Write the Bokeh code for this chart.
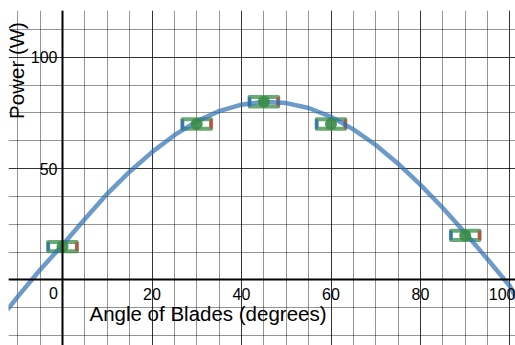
from bokeh.plotting import figure
from bokeh.models import FixedTicker, Label, ColumnDataSource, Range1d
from bokeh.core.properties import value
from bokeh.embed import file_html
from bokeh.resources import INLINE
import math

# ---- data ----
angle = [0, 30, 45, 60, 90]           # degrees
power = [15, 70, 80, 70, 20]          # W
angle_err = 3.2
power_err = 2.1

# fitted model curve
curve_x = [-12.1, -10, -5, 0, 5, 10, 15, 20, 25, 30, 35, 40, 45, 50, 55,
           60, 65, 70, 75, 80, 85, 90, 95, 100, 101.3]
curve_y = [-12.8, -7.5, 4.6, 15.7, 27.4, 38.7, 48.6, 57.4, 65.0, 71.2, 75.8,
           78.7, 80.0, 79.4, 77.2, 73.2, 67.6, 60.6, 52.2, 42.7, 32.3, 21.1,
           9.3, -2.8, -7.8]

x_tick_values = [20, 40, 60, 80, 100]
y_tick_values = [50, 100]
origin_label = ["0"]
x_grid_major = [-20, 0, 20, 40, 60, 80, 100]
x_grid_minor = [-10, -5, 5, 10, 15, 25, 30, 35, 45, 50, 55, 65, 70, 75, 85, 90, 95]
y_grid_major = [-50, 0, 50, 100]
y_grid_minor = [-25, -12.5, 12.5, 25, 37.5, 62.5, 75, 87.5, 112.5]

x_title = "Angle of Blades (degrees)"
y_title = "Power (W)"

GREEN = "#388c46"
BLUE = "#2d70b3"
RED = "#c74440"
FONT = "Liberation Sans"

p = figure(width=515, height=345,
           x_range=Range1d(-12.07, 101.23), y_range=Range1d(-29.4, 120.96),
           output_backend="svg", toolbar_location=None,
           min_border_left=8, min_border_right=0, min_border_bottom=0,
           min_border_top=10)
p.outline_line_color = None
p.background_fill_color = "white"

# grids
p.xgrid.ticker = FixedTicker(ticks=x_grid_major, minor_ticks=x_grid_minor)
p.ygrid.ticker = FixedTicker(ticks=y_grid_major, minor_ticks=y_grid_minor)
for g in (p.xgrid, p.ygrid):
    g.grid_line_color = "black"
    g.grid_line_alpha = 0.8
    g.grid_line_width = 1
    g.minor_grid_line_color = "black"
    g.minor_grid_line_alpha = 0.42
    g.minor_grid_line_width = 1

# axes through the origin
for ax in (p.xaxis, p.yaxis):
    ax.fixed_location = 0
    ax.axis_line_color = "black"
    ax.axis_line_width = 2
    ax.major_tick_in = 0
    ax.major_tick_out = 0
    ax.minor_tick_in = 0
    ax.minor_tick_out = 0
    ax.major_label_text_font = FONT
    ax.major_label_text_font_size = "16px"
    ax.major_label_text_color = "black"
p.xaxis.ticker = FixedTicker(ticks=x_tick_values)
p.yaxis.ticker = FixedTicker(ticks=y_tick_values)
p.xaxis.major_label_standoff = 8
p.yaxis.major_label_standoff = 5

# origin label
p.text(x=[0], y=[0], text=origin_label, x_offset=-9, y_offset=13,
       text_align="center", text_baseline="middle",
       text_font=value(FONT), text_font_size="16px", text_color="black")

src = ColumnDataSource(dict(
    x=angle, y=power,
    w=[2 * angle_err] * len(angle), h=[2 * power_err] * len(angle),
    xl=[a - angle_err for a in angle], xr=[a + angle_err for a in angle],
    yb=[v - power_err for v in power], yt=[v + power_err for v in power],
))

# error boxes
p.rect(x="x", y="y", width="w", height="h", source=src, fill_alpha=0,
       line_color=GREEN, line_alpha=0.75, line_width=4, line_join="round")
p.segment(x0="xl", y0="yb", x1="xl", y1="yt", source=src,
          line_color=BLUE, line_alpha=0.85, line_width=3)
p.segment(x0="xr", y0="yb", x1="xr", y1="yt", source=src,
          line_color=RED, line_alpha=0.85, line_width=3)

# fitted curve
p.line(curve_x, curve_y, line_color=BLUE, line_alpha=0.7, line_width=4.5,
       line_join="round", line_cap="round")

# data points
p.scatter(x="x", y="y", source=src, size=12, fill_color=GREEN,
          line_color=None, fill_alpha=0.9)

# axis titles
p.add_layout(Label(x=7.5, y=275, x_units="screen", y_units="screen",
                   text=y_title, angle=math.pi / 2, text_align="center",
                   text_baseline="middle", text_font=FONT,
                   text_font_size="20.5px", text_color="black"))
p.add_layout(Label(x=199.5, y=32, x_units="screen", y_units="screen",
                   text=x_title, text_align="center",
                   text_baseline="middle", text_font=FONT,
                   text_font_size="20.5px", text_color="black"))

open("out.html", "w").write(file_html(p, INLINE))
